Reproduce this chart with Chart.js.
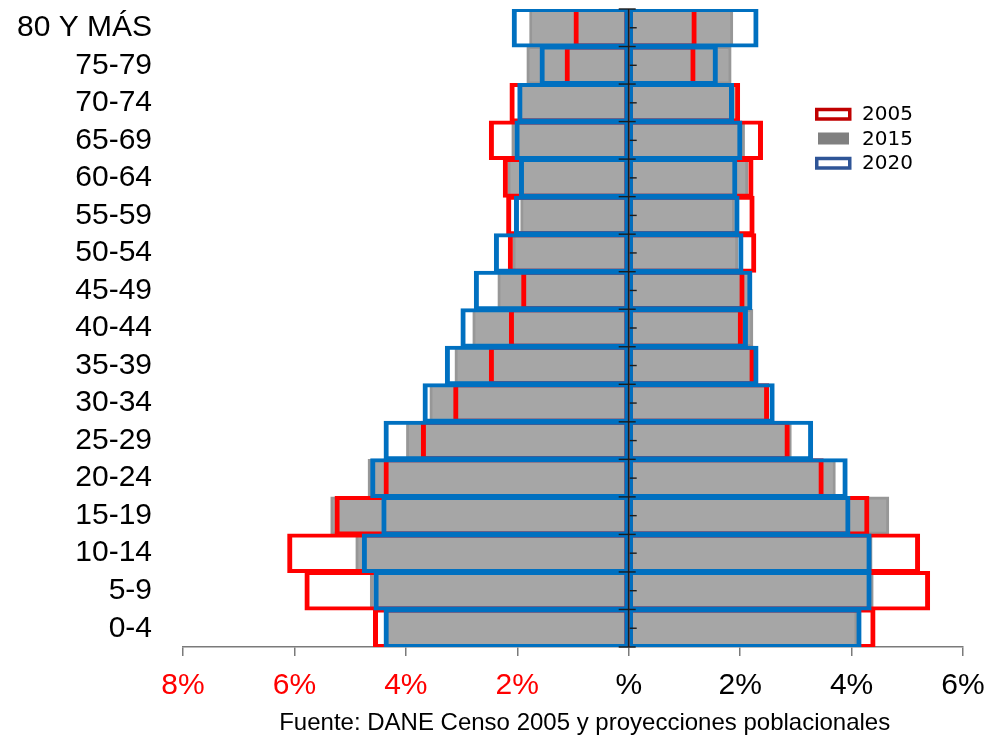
<!DOCTYPE html>
<html lang="es">
<head>
<meta charset="utf-8">
<title>Pirámide poblacional 2005 - 2015 - 2020</title>
<script src="https://cdn.jsdelivr.net/npm/chart.js@4.4.1/dist/chart.umd.min.js"></script>
<style>
  html, body { margin: 0; padding: 0; background: #ffffff; }
  #marco { width: 991px; height: 741px; }
</style>
</head>
<body>
<div id="marco"><canvas id="piramide" width="991" height="741"></canvas></div>
<script>
// Grupos de edad, de arriba hacia abajo
const gruposEdad = ['80 Y MÁS', '75-79', '70-74', '65-69', '60-64', '55-59', '50-54', '45-49',
  '40-44', '35-39', '30-34', '25-29', '20-24', '15-19', '10-14', '5-9', '0-4'];

// Porcentaje de la población por grupo (lado izquierdo / lado derecho)
const izquierda2005 = [0.99, 1.15, 2.14, 2.51, 2.26, 2.20, 2.17, 1.93, 2.15, 2.51, 3.15, 3.73, 4.40, 5.28, 6.13, 5.82, 4.59];
const derecha2005   = [1.22, 1.20, 2.00, 2.41, 2.24, 2.26, 2.29, 2.08, 2.05, 2.26, 2.52, 2.89, 3.50, 4.32, 5.23, 5.41, 4.43];

const izquierda2015 = [1.78, 1.83, 1.98, 2.10, 2.17, 1.94, 2.08, 2.35, 2.80, 3.12, 3.57, 3.99, 4.68, 5.35, 4.90, 4.64, 4.36];
const derecha2015   = [1.87, 1.84, 1.90, 2.08, 2.14, 1.90, 1.96, 2.20, 2.23, 2.22, 2.50, 2.92, 3.71, 4.67, 4.37, 4.39, 4.10];

const izquierda2020 = [2.10, 1.60, 2.00, 2.05, 1.97, 2.06, 2.42, 2.78, 3.02, 3.30, 3.70, 4.40, 4.64, 4.44, 4.79, 4.58, 4.40];
const derecha2020   = [2.33, 1.60, 1.89, 2.04, 1.95, 1.99, 2.06, 2.22, 2.14, 2.33, 2.62, 3.31, 3.93, 3.98, 4.36, 4.36, 4.18];

const anios = ['2005', '2015', '2020'];

// Marcas del eje horizontal y sus textos
const valoresEjeX   = [-8, -6, -4, -2, 0, 2, 4, 6];
const etiquetasEjeX = ['8%', '6%', '4%', '2%', '%', '2%', '4%', '6%'];

const fuente = 'Fuente: DANE Censo 2005 y proyecciones poblacionales';

Chart.defaults.font.family = "'Liberation Sans', Arial, sans-serif";
Chart.defaults.color = '#000000';

// Bordes: lado exterior más grueso, lado del eje central más fino
const bordeIzq = { left: 5, right: 3.5, top: 4, bottom: 4 };
const bordeDer = { left: 3.5, right: 5, top: 4, bottom: 4 };

const contorno2005 = { borderColor: '#ff0000', backgroundColor: 'rgba(0,0,0,0)', order: 2, barPercentage: 1.053 };
const relleno2015  = { borderColor: '#979797', backgroundColor: '#a6a6a6', borderWidth: 3, order: 3, barPercentage: 1 };
const contorno2020 = { borderColor: '#0070c0', backgroundColor: 'rgba(0,0,0,0)', order: 1, barPercentage: 1.053 };

// Muestras de la leyenda
const muestrasLeyenda = [
  { texto: anios[0], trazo: '#c00000', relleno: null },
  { texto: anios[1], trazo: null, relleno: '#808080' },
  { texto: anios[2], trazo: '#2f5597', relleno: null }
];

function serie(anio, valores, signo, estilo, borde) {
  const ds = Object.assign({
    label: anio,
    data: valores.map(v => signo * v),
    grouped: false,
    categoryPercentage: 1,
    borderSkipped: false
  }, estilo);
  if (borde && ds.borderWidth === undefined) ds.borderWidth = borde;
  return ds;
}

// Eje vertical central con marcas en los límites y centros de cada grupo
const ejeCentral = {
  id: 'ejeCentral',
  afterDatasetsDraw(chart) {
    const { ctx, chartArea, scales: { x, y } } = chart;
    const x0 = x.getPixelForValue(0);
    ctx.save();
    ctx.strokeStyle = '#1c1c1c';
    ctx.lineWidth = 1.6;
    ctx.beginPath();
    ctx.moveTo(x0, chartArea.top);
    ctx.lineTo(x0, chartArea.bottom);
    ctx.stroke();
    ctx.lineWidth = 1.4;
    const n = y.getLabels().length;
    for (let i = 0; i <= n; i++) {
      const yb = y.getPixelForValue(i - 0.5);
      ctx.beginPath();
      ctx.moveTo(x0 - 10, yb);
      ctx.lineTo(x0 + 7, yb);
      ctx.stroke();
    }
    for (let i = 0; i < n; i++) {
      const yc = y.getPixelForValue(i);
      ctx.beginPath();
      ctx.moveTo(x0 + 1, yc);
      ctx.lineTo(x0 + 8, yc);
      ctx.stroke();
    }
    ctx.restore();
  }
};

// Leyenda de los tres años, en la parte superior derecha del área del gráfico
const leyendaAnios = {
  id: 'leyendaAnios',
  afterDraw(chart) {
    const { ctx, chartArea } = chart;
    const bx = chartArea.right - 148;
    ctx.save();
    ctx.font = "20px 'DejaVu Sans', sans-serif";
    ctx.textBaseline = 'middle';
    ctx.textAlign = 'left';
    muestrasLeyenda.forEach((m, k) => {
      const cy = chartArea.top + 105 + k * 24.5;
      if (m.relleno) {
        ctx.fillStyle = m.relleno;
        ctx.fillRect(bx + 3, cy - 6, 31, 12);
      } else {
        ctx.fillStyle = '#ffffff';
        ctx.fillRect(bx + 1.75, cy - 4.5, 33, 9.5);
        ctx.strokeStyle = m.trazo;
        ctx.lineWidth = 3.5;
        ctx.strokeRect(bx + 1.75, cy - 4.5, 33, 9.5);
      }
      ctx.fillStyle = '#000000';
      ctx.fillText(m.texto, bx + 47, cy + 1);
    });
    ctx.restore();
  }
};

// Nota de fuente bajo el eje horizontal
const notaFuente = {
  id: 'notaFuente',
  afterDraw(chart) {
    const { ctx, chartArea, height } = chart;
    ctx.save();
    ctx.font = "24px 'Liberation Sans', Arial, sans-serif";
    ctx.fillStyle = '#000000';
    ctx.textAlign = 'center';
    ctx.textBaseline = 'middle';
    ctx.fillText(fuente, chartArea.left + chartArea.width * 0.515, height - 18);
    ctx.restore();
  }
};

new Chart(document.getElementById('piramide'), {
  type: 'bar',
  data: {
    labels: gruposEdad,
    datasets: [
      serie(anios[0], izquierda2005, -1, contorno2005, bordeIzq),
      serie(anios[0], derecha2005, 1, contorno2005, bordeDer),
      serie(anios[1], izquierda2015, -1, relleno2015),
      serie(anios[1], derecha2015, 1, relleno2015),
      serie(anios[2], izquierda2020, -1, contorno2020, bordeIzq),
      serie(anios[2], derecha2020, 1, contorno2020, bordeDer)
    ]
  },
  options: {
    indexAxis: 'y',
    responsive: false,
    animation: false,
    events: [],
    devicePixelRatio: 1,
    layout: { padding: { top: 9, right: 28, bottom: 0, left: 0 } },
    scales: {
      x: {
        min: -8,
        max: 6,
        afterBuildTicks(scale) {
          scale.ticks = valoresEjeX.map(v => ({ value: v }));
        },
        afterFit(scale) {
          scale.height = 94;
          scale.paddingLeft = 0;
          scale.paddingRight = 0;
        },
        ticks: {
          autoSkip: false,
          maxRotation: 0,
          padding: 12,
          font: { size: 30 },
          color: (c) => (c.tick && c.tick.value < 0 ? '#ff0000' : '#000000'),
          callback: (value, index) => etiquetasEjeX[index]
        },
        grid: {
          display: true,
          drawOnChartArea: false,
          drawTicks: true,
          tickLength: 9,
          color: '#7a7a7a',
          lineWidth: 1.5
        },
        border: { display: true, color: '#7a7a7a', width: 1.5 }
      },
      y: {
        afterFit(scale) {
          scale.width = 183;
          scale.paddingTop = 0;
          scale.paddingBottom = 0;
        },
        ticks: {
          autoSkip: false,
          padding: 31,
          font: { size: 30 },
          color: '#000000'
        },
        grid: { display: false, drawTicks: false },
        border: { display: false }
      }
    },
    plugins: {
      legend: { display: false },
      tooltip: { enabled: false }
    }
  },
  plugins: [ejeCentral, leyendaAnios, notaFuente]
});
</script>
</body>
</html>
